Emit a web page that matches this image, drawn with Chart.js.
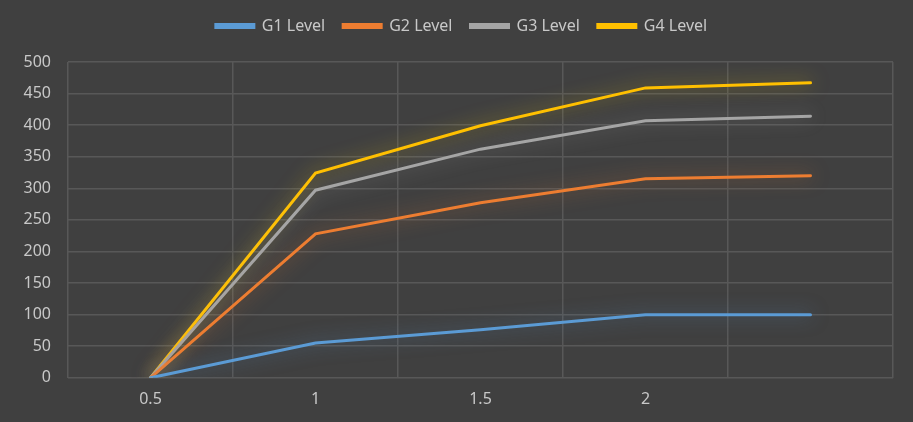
<!DOCTYPE html>
<html lang="en">
<head>
  <meta charset="UTF-8">
  <title>Levels</title>
  <script src="https://cdn.jsdelivr.net/npm/chart.js"></script>
  <style>
    html, body { margin: 0; padding: 0; background: #404040; }
  </style>
</head>
<body>
  <canvas id="levelChart" width="913" height="422"></canvas>

  <script>
    // category labels (last point has no label in the original)
    const labels = ['0.5', '1', '1.5', '2', ''];

    // series values
    const g1Level = [0, 55, 76, 100, 100];
    const g2Level = [0, 228, 277, 315, 320];
    const g3Level = [0, 297, 362, 407, 414];
    const g4Level = [0, 324, 399, 459, 467];

    const seriesNames = ['G1 Level', 'G2 Level', 'G3 Level', 'G4 Level'];
    const seriesColors = ['#5b9bd5', '#ed7d31', '#a5a5a5', '#ffc000'];
    const glowColors = ['rgba(91,155,213,0.55)', 'rgba(237,125,49,0.55)', 'rgba(200,200,200,0.4)', 'rgba(255,215,0,0.55)'];

    // soft glow under each line, like the Excel style
    const glowPlugin = {
      id: 'glow',
      beforeDatasetDraw(chart, args) {
        const ctx = chart.ctx;
        ctx.save();
        ctx.shadowColor = glowColors[args.index];
        ctx.shadowBlur = 18;
      },
      afterDatasetDraw(chart) {
        chart.ctx.restore();
      }
    };

    const seriesData = [g1Level, g2Level, g3Level, g4Level];
    const datasets = seriesData.map((d, i) => ({
      label: seriesNames[i],
      data: d,
      borderColor: seriesColors[i],
      backgroundColor: seriesColors[i],
      borderWidth: 3,
      borderCapStyle: 'round',
      pointRadius: 0,
      tension: 0
    }));

    const ctx = document.getElementById('levelChart').getContext('2d');
    const chart = new Chart(ctx, {
      type: 'line',
      data: { labels: labels, datasets: datasets },
      plugins: [glowPlugin],
      options: {
        responsive: false,
        animation: false,
        layout: { padding: { left: 0, right: 20, top: 0, bottom: 1 } },
        plugins: {
          legend: {
            position: 'top',
            labels: {
              color: '#c8c8c8',
              font: { family: 'Noto Sans', size: 16 },
              boxWidth: 38,
              boxHeight: 3,
              padding: 18
            }
          },
          tooltip: { enabled: false }
        },
        scales: {
          x: {
            offset: true,
            grid: { color: '#585858', lineWidth: 1.5, offset: true, drawTicks: false },
            border: { display: false },
            ticks: {
              color: '#c8c8c8',
              font: { family: 'Noto Sans', size: 16 },
              padding: 12
            }
          },
          y: {
            min: 0,
            max: 500,
            afterFit(scale) { scale.width = 68; },
            grid: { color: '#585858', lineWidth: 1.5, drawTicks: false },
            border: { display: false },
            ticks: {
              stepSize: 50,
              color: '#c8c8c8',
              font: { family: 'Noto Sans', size: 16 },
              padding: 17
            }
          }
        }
      }
    });

    // leave the same gap under the legend as the original,
    // and centre it on the whole picture rather than the padded box
    const legendFit = chart.legend.fit;
    chart.legend.fit = function () {
      legendFit.call(this);
      this.height += 18;
    };
    const legendDraw = chart.legend.draw;
    chart.legend.draw = function () {
      this.ctx.save();
      this.ctx.translate(15, 0);
      legendDraw.apply(this, arguments);
      this.ctx.restore();
    };
    chart.update();
  </script>
</body>
</html>
